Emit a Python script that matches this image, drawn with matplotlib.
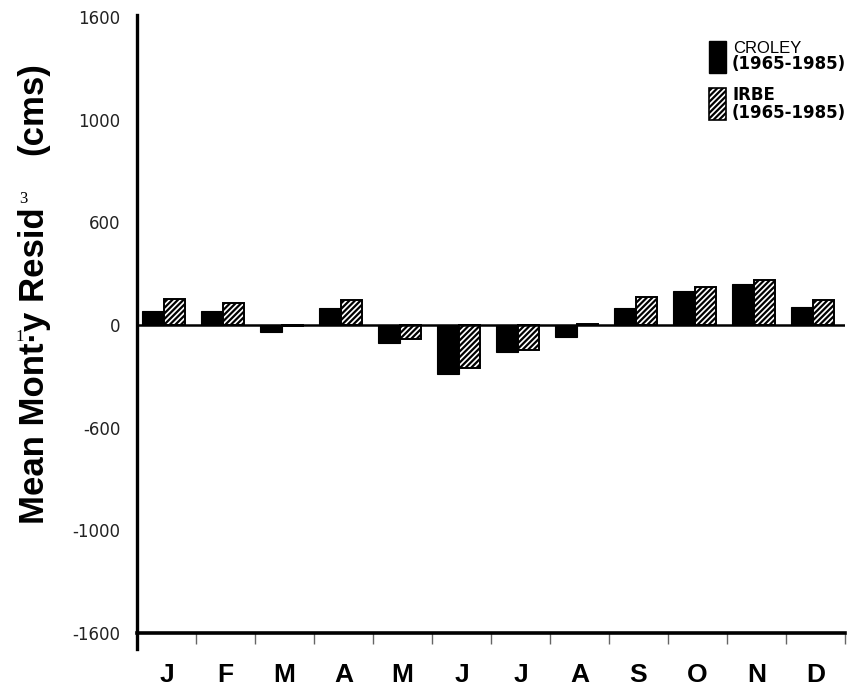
import matplotlib
matplotlib.use("Agg")
import matplotlib.pyplot as plt
from matplotlib.patches import Rectangle
from matplotlib.transforms import ScaledTranslation
import numpy as np

months = ["J", "F", "M", "A", "M", "J", "J", "A", "S", "O", "N", "D"]
croley = [70, 68, -36, 83, -88, -238, -133, -57, 81, 167, 200, 89]
irbe = [127, 107, -4, 120, -68, -210, -120, 3, 135, 186, 217, 122]
ytick_pos = [-1500, -1000, -500, 0, 500, 1000, 1500]
ytick_labels = ["-1600", "-1000", "-600", "0", "600", "1000", "1600"]

W, H = 850, 693
plt.rcParams["hatch.linewidth"] = 1.6
fig = plt.figure(figsize=(W / 100, H / 100), dpi=100)
fig.patch.set_facecolor("white")

def fx(x):
    return x / W

def fy(y):
    return 1 - y / H

ax = fig.add_axes([fx(137), fy(649), (845 - 137) / W, (649 - 15) / H])
ax.set_xlim(0, 12)
ax.set_ylim(-1578, 1510)

x = np.arange(len(months)) + 0.45
bw = 0.36
ax.bar(x - bw / 2, croley, width=bw, color="black", edgecolor="black", linewidth=0.8, zorder=3)
ax.bar(x + bw / 2, irbe, width=bw, color="white", edgecolor="black", hatch="//////", linewidth=1.4, zorder=3)

ax.axhline(0, color="black", lw=1.8, zorder=4)
ax.axhline(-1500, color="black", lw=2.6, zorder=4, clip_on=False)

for sp in ["top", "right", "bottom"]:
    ax.spines[sp].set_visible(False)
ax.spines["left"].set_linewidth(2.4)

ax.set_yticks(ytick_pos)
ax.set_yticklabels(ytick_labels, fontsize=12, color="#222222", family="DejaVu Sans")
ax.tick_params(axis="y", length=0, pad=12)
ax.set_xticks([])

# month boundary ticks and labels
ax.vlines(np.arange(1, 13), -1555, -1500, color="#666666", lw=1.0, clip_on=False)
off = ScaledTranslation(0, -42 / 100, fig.dpi_scale_trans)
for i, m in enumerate(months):
    ax.text(i + 0.5, -1500, m, ha="center", va="center", fontsize=19,
            fontweight="bold", family=["Liberation Sans", "DejaVu Sans"],
            transform=ax.transData + off, clip_on=False)

# y label
lab_fam = ["Liberation Sans", "DejaVu Sans"]
fig.text(fx(44), fy(366), "Mean Mont\u00b7y Resid", rotation=90, rotation_mode="anchor",
         ha="center", va="baseline", fontsize=25, fontweight="bold", family=lab_fam)
fig.text(fx(42), fy(109), "(cms)", rotation=90, rotation_mode="anchor",
         ha="center", va="baseline", fontsize=25, fontweight="bold", family=lab_fam)
fig.text(fx(23), fy(199), "3", ha="center", va="center", fontsize=12, family="Liberation Serif")
fig.text(fx(20), fy(337), "1", ha="center", va="center", fontsize=12, family="Liberation Serif")

# legend
fig.patches.append(Rectangle((fx(709), fy(73)), 17 / W, 32 / H, transform=fig.transFigure,
                             facecolor="black", edgecolor="black", figure=fig))
fig.patches.append(Rectangle((fx(709), fy(120)), 17 / W, 32 / H, transform=fig.transFigure,
                             facecolor="white", edgecolor="black", hatch="//////", lw=1.2, figure=fig))
fig.text(fx(733), fy(53), "CROLEY", ha="left", va="baseline", fontsize=12, family="Liberation Sans")
fig.text(fx(732), fy(69), "(1965-1985)", ha="left", va="baseline", fontsize=12, fontweight="bold", family="DejaVu Sans")
fig.text(fx(732), fy(100), "IRBE", ha="left", va="baseline", fontsize=12, fontweight="bold", family="DejaVu Sans")
fig.text(fx(732), fy(118), "(1965-1985)", ha="left", va="baseline", fontsize=12, fontweight="bold", family="DejaVu Sans")

fig.savefig("out.png", dpi=100, facecolor="white")
